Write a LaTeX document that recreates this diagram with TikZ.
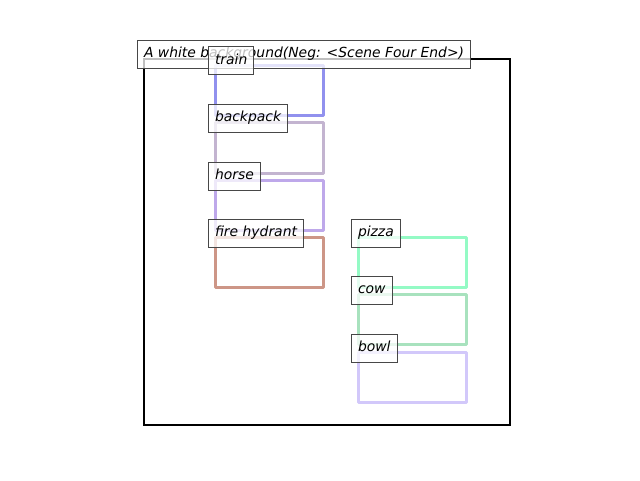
\documentclass[tikz,border=0pt]{standalone}
\usepackage{fontspec}
\setmainfont{DejaVu Sans}
\begin{document}
\begin{tikzpicture}[x=1pt,y=-1pt,
  lbl/.style={draw=black!72, line width=1pt, fill=white, fill opacity=0.75, text opacity=1,
    anchor=west, inner xsep=6.5pt, inner ysep=0pt, minimum height=28pt,
    text height=10.6pt, text depth=3pt, font=\fontsize{13.9}{16}\selectfont\itshape},
  objbox/.style={line width=3pt, line join=round}]
\useasboundingbox (0,0) rectangle (640,480);
\definecolor{ctrain}{RGB}{145,145,238}
\definecolor{cback}{RGB}{195,180,208}
\definecolor{chorse}{RGB}{190,168,234}
\definecolor{cfire}{RGB}{205,150,135}
\definecolor{cpizza}{RGB}{148,250,197}
\definecolor{ccow}{RGB}{168,226,190}
\definecolor{cbowl}{RGB}{210,200,250}
\draw[line width=2pt] (144,59) rectangle (510,425);
\draw[objbox, draw=ctrain] (215,65) rectangle (323,115);
\draw[objbox, draw=cback] (215,122) rectangle (323,173);
\draw[objbox, draw=chorse] (215,180) rectangle (323,230);
\draw[objbox, draw=cfire] (215,237) rectangle (323,287);
\draw[objbox, draw=cpizza] (358,237) rectangle (466,287);
\draw[objbox, draw=ccow] (358,294) rectangle (466,344);
\draw[objbox, draw=cbowl] (358,352) rectangle (466,402);
\node[lbl] (title) at (137,54) {A white background(Neg: <Scene Four End>)};
\node[lbl] (train) at (208,60.5) {train};
\node[lbl] (backpack) at (208,118) {backpack};
\node[lbl] (horse) at (208,176) {horse};
\node[lbl] (fire) at (208,233) {fire hydrant};
\node[lbl] (pizza) at (351,233) {pizza};
\node[lbl] (cow) at (351,290) {cow};
\node[lbl] (bowl) at (351,348) {bowl};
\end{tikzpicture}
\end{document}
